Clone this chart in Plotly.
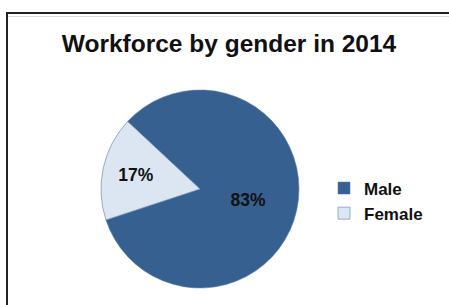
import plotly.graph_objects as go

labels = ["Male", "Female"]
values = [83, 17]
colors = ["#36608F", "#DCE6F2"]
title_text = "Workforce by gender in 2014"

W, H = 449, 305
cx, cy, r = 200, 189, 99


def px(x):
    return x / W


def py(y):
    return 1 - y / H


fig = go.Figure(go.Pie(
    labels=["<b>" + l + "</b>" for l in labels],
    values=values,
    sort=False,
    direction="clockwise",
    rotation=313,
    marker=dict(colors=colors, line=dict(color="#5A7FAF", width=0.6)),
    texttemplate="<b>%{percent:.0%}</b>",
    textposition="inside",
    insidetextorientation="horizontal",
    textfont=dict(family="Liberation Sans, Arial", size=17.5, color="#111111"),
    domain=dict(x=[(cx - r) / W, (cx + r) / W], y=[(H - cy - r) / H, (H - cy + r) / H]),
    hoverinfo="label+percent",
))

fig.update_layout(
    width=W, height=H,
    margin=dict(l=0, r=0, t=0, b=0),
    paper_bgcolor="white",
    plot_bgcolor="white",
    title=dict(text="<b>" + title_text + "</b>", x=px(229), xanchor="center",
               y=py(43), yanchor="middle",
               font=dict(family="Liberation Sans, Arial", size=24.5, color="#111111")),
    legend=dict(x=px(324), xanchor="left", y=py(201), yanchor="middle",
                font=dict(family="Liberation Sans, Arial", size=17, color="#111111"),
                bgcolor="rgba(0,0,0,0)"),
    shapes=[
        dict(type="path", xref="paper", yref="paper",
             path=f"M {px(7)} 0 L {px(7)} {py(13)} L 1 {py(13)}",
             line=dict(color="#222222", width=2)),
        dict(type="line", xref="paper", yref="paper",
             x0=px(8), x1=1, y0=py(16.5), y1=py(16.5),
             line=dict(color="#DDDDDD", width=1)),
    ],
)

fig.write_html("out.html",
               config={"displayModeBar": False},
               post_script="document.body.style.margin='0';document.body.style.overflow='hidden';")
